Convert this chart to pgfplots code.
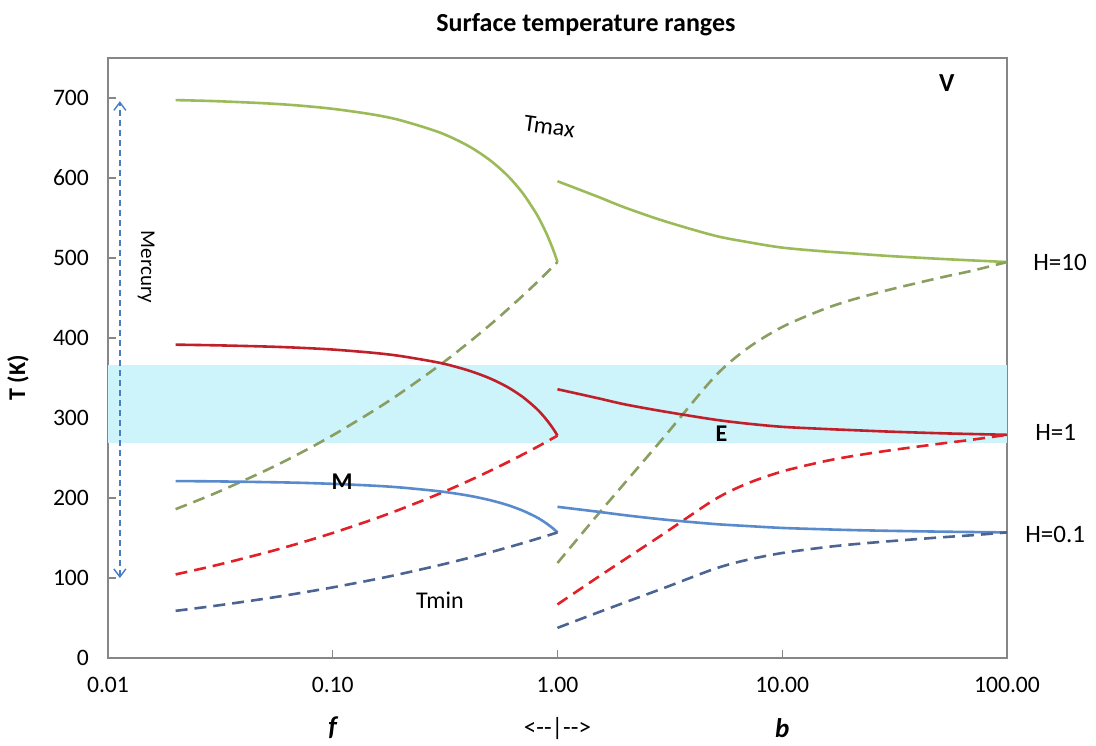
\documentclass[border=0pt]{standalone}
\usepackage{fontspec}
\setmainfont{Carlito}
\usepackage{pgfplots}
\pgfplotsset{compat=1.18}
\usetikzlibrary{arrows.meta}
\definecolor{gsol}{RGB}{155,187,89}
\definecolor{gdash}{RGB}{138,158,96}
\definecolor{rsol}{RGB}{192,32,42}
\definecolor{rdash}{RGB}{226,32,40}
\definecolor{bsol}{RGB}{88,138,204}
\definecolor{bdash}{RGB}{76,100,146}
\definecolor{band}{RGB}{205,243,251}
\definecolor{merc}{RGB}{70,125,195}
\definecolor{frame}{RGB}{134,134,134}
\begin{document}
\begin{tikzpicture}
\begin{axis}[
  scale only axis, width=449.5pt, height=300pt,
  xmode=log, xmin=0.01, xmax=100, ymin=0, ymax=750,
  xtick={0.01,0.1,1,10,100},
  xticklabels={0.01,0.10,1.00,10.00,100.00},
  ytick={0,100,...,700},
  minor tick num=0, xminorticks=false,
  tick pos=left, tick align=inside, major tick length=4pt,
  axis line style={frame, line width=0.6pt},
  tick style={frame, line width=0.6pt},
  ticklabel style={font=\fontsize{11.8}{14}\selectfont},
  xticklabel style={yshift=-6pt},
  yticklabel style={xshift=-6pt},
  /pgf/number format/assume math mode=true,
  clip=false,
  solid/.style={line width=1.3pt},
  dsh/.style={line width=1.3pt, dash pattern=on 6pt off 3.5pt},
]
% habitable band
\addplot[draw=none, fill=band] coordinates {(0.01,269) (100,269) (100,366) (0.01,366)} -- cycle;

% f branch (Tmax solid, Tmin dashed)
\addplot[gsol, solid, smooth] coordinates {
 (0.02,697.4) (0.03,696.1) (0.05,693.4) (0.07,690.7) (0.1,686.5) (0.15,679.5) (0.2,672.2)
 (0.3,656.8) (0.4,640.3) (0.5,622.4) (0.6,602.9) (0.7,581.2) (0.8,556.7) (0.85,543.2)
 (0.9,528.6) (0.95,512.6) (0.98,502.3) (1.0,495)};
\addplot[gdash, dsh, smooth] coordinates {
 (0.02,186.1) (0.03,206.0) (0.05,234.1) (0.07,254.6) (0.1,278.4) (0.15,308.1) (0.2,331.0)
 (0.3,366.3) (0.4,393.7) (0.5,416.2) (0.6,435.7) (0.7,452.8) (0.8,468.1) (0.9,482.1) (1.0,495)};
\addplot[rsol, solid, smooth] coordinates {
 (0.02,391.7) (0.03,390.9) (0.05,389.4) (0.07,387.9) (0.1,385.6) (0.15,381.6) (0.2,377.5)
 (0.3,368.9) (0.4,359.6) (0.5,349.6) (0.6,338.6) (0.7,326.4) (0.8,312.7) (0.85,305.1)
 (0.9,296.8) (0.95,287.9) (0.98,282.1) (1.0,278)};
\addplot[rdash, dsh, smooth] coordinates {
 (0.02,104.5) (0.03,115.7) (0.05,131.5) (0.07,143.0) (0.1,156.3) (0.15,173.0) (0.2,185.9)
 (0.3,205.7) (0.4,221.1) (0.5,233.8) (0.6,244.7) (0.7,254.3) (0.8,262.9) (0.9,270.8) (1.0,278)};
\addplot[bsol, solid, smooth] coordinates {
 (0.02,221.2) (0.03,220.8) (0.05,219.9) (0.07,219.1) (0.1,217.7) (0.15,215.5) (0.2,213.2)
 (0.3,208.3) (0.4,203.1) (0.5,197.4) (0.6,191.2) (0.7,184.3) (0.8,176.6) (0.85,172.3)
 (0.9,167.6) (0.95,162.6) (0.98,159.3) (1.0,157)};
\addplot[bdash, dsh, smooth] coordinates {
 (0.02,59.0) (0.03,65.3) (0.05,74.2) (0.07,80.8) (0.1,88.3) (0.15,97.7) (0.2,105.0)
 (0.3,116.2) (0.4,124.9) (0.5,132.0) (0.6,138.2) (0.7,143.6) (0.8,148.5) (0.9,152.9) (1.0,157)};

% b branch
\addplot[gsol, solid, smooth] coordinates {
 (1,596) (1.5,577) (2,563) (3,546) (5,528) (7,520) (10,513) (15,508.5) (20,506) (30,502.5)
 (50,499) (70,497) (100,495)};
\addplot[gdash, dsh, smooth] coordinates {
 (1,118.8) (1.5,178.2) (2,219.3) (3,277.2) (5,351.5) (7,387.1) (10,413.8) (15,435.1)
 (20,447.0) (30,460.4) (50,475.2) (70,484.1) (100,495)};
\addplot[rsol, solid, smooth] coordinates {
 (1,336) (1.5,325) (2,317) (3,308) (5,298) (7,293) (10,289) (15,286.5) (20,285) (30,283)
 (50,281) (70,280) (100,279)};
\addplot[rdash, dsh, smooth] coordinates {
 (1,67.0) (1.5,100.4) (2,123.6) (3,156.2) (5,198.1) (7,218.2) (10,233.2) (15,245.2)
 (20,251.9) (30,259.5) (50,267.8) (70,272.9) (100,279)};
\addplot[bsol, solid, smooth] coordinates {
 (1,189) (1.5,183) (2,178.5) (3,173) (5,167.5) (7,165) (10,162.6) (15,161) (20,160) (30,159)
 (50,158) (70,157.5) (100,157)};
\addplot[bdash, dsh, smooth] coordinates {
 (1,37.7) (1.5,56.5) (2,69.6) (3,87.9) (5,111.5) (7,122.8) (10,131.3) (15,138.0)
 (20,141.8) (30,146.0) (50,150.7) (70,153.5) (100,157)};

% Mercury range arrow
\addplot[merc, line width=0.7pt, dash pattern=on 3pt off 2pt,
  {Straight Barb[length=4pt,width=6pt]}-{Straight Barb[length=4pt,width=6pt]}]
  coordinates {(0.0113,100) (0.0113,696)};
\node[rotate=-90, font=\fontsize{10.5}{12}\selectfont] at (axis cs:0.0148,489) {Mercury};

% annotations
\node[rotate=-8, font=\fontsize{12}{14}\selectfont] at (axis cs:0.92,664) {Tmax};
\node[font=\fontsize{12}{14}\selectfont] at (axis cs:0.30,72) {Tmin};
\node[font=\bfseries\fontsize{12}{14}\selectfont] at (axis cs:0.11,220) {M};
\node[font=\bfseries\fontsize{12}{14}\selectfont] at (axis cs:5.36,281) {E};
\node[font=\bfseries\fontsize{13}{15}\selectfont] at (axis cs:54,719) {V};
\node[anchor=west, font=\fontsize{12.5}{14}\selectfont, inner sep=0pt] at ([xshift=13pt]axis cs:100,495) {H=10};
\node[anchor=west, font=\fontsize{12.5}{14}\selectfont, inner sep=0pt] at ([xshift=14pt]axis cs:100,282) {H=1};
\node[anchor=west, font=\fontsize{12.5}{14}\selectfont, inner sep=0pt] at ([xshift=9pt]axis cs:100,154) {H=0.1};

% title, axis labels
\node[font=\bfseries\fontsize{13}{15}\selectfont] at (rel axis cs:0.5317,1.055) {Surface temperature ranges};
\node[rotate=90, font=\bfseries\fontsize{12}{14}\selectfont] at (rel axis cs:-0.1001,0.4667) {T (K)};
\node[font=\bfseries\itshape\fontsize{13.5}{15}\selectfont] at ([yshift=-35pt]axis cs:0.1,0) {f};
\node[font=\fontsize{12.5}{15}\selectfont] at ([yshift=-35pt]axis cs:1,0) {<-\/-|-\/->};
\node[font=\bfseries\itshape\fontsize{13.5}{15}\selectfont] at ([yshift=-35pt]axis cs:10,0) {b};

% bounding box matching reference proportions
\path (rel axis cs:-0.1201,-0.1433) rectangle (rel axis cs:1.0990,1.0967);
\end{axis}
\end{tikzpicture}
\end{document}
